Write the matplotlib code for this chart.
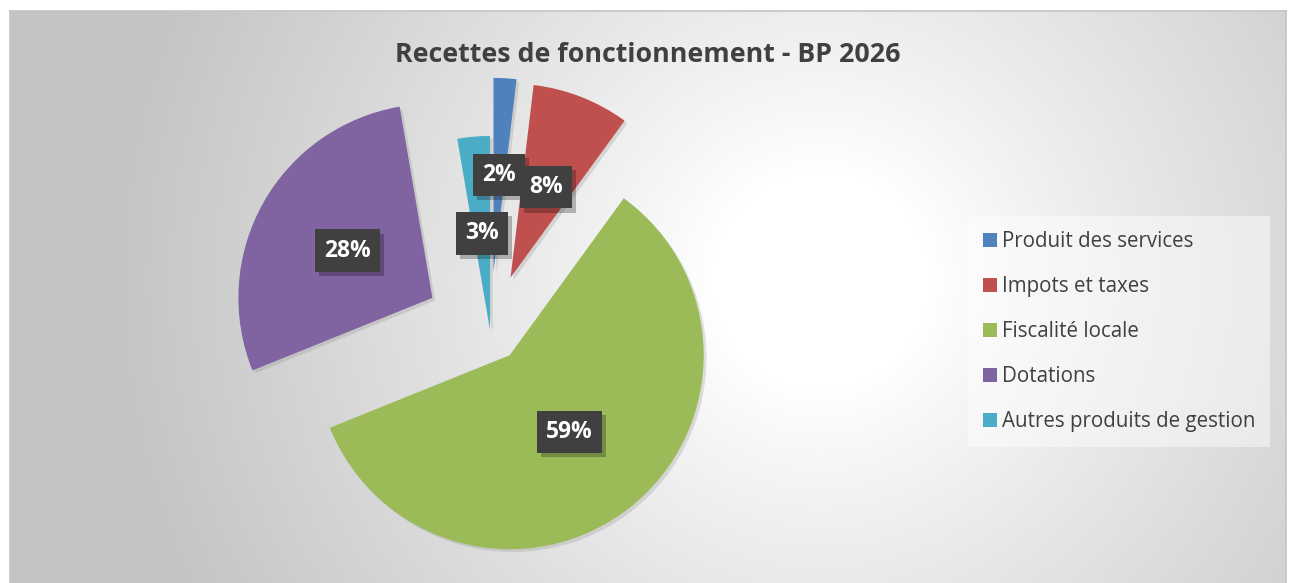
import numpy as np
import matplotlib
matplotlib.use("Agg")
import matplotlib.pyplot as plt
from matplotlib.patches import Patch
import matplotlib.patheffects as pe

# data
categories = ["Produit des services", "Impots et taxes", "Fiscalité locale",
              "Dotations", "Autres produits de gestion"]
values = [1.9, 8.1, 58.9, 28.4, 2.7]
title = "Recettes de fonctionnement - BP 2026"

# style
colors = ["#4F81BD", "#C0504D", "#9BBB59", "#8064A2", "#4BACC6"]
explode = [0.30, 0.29, 0.165, 0.34, 0.0]
txt_col = "#404040"

W, H = 1289, 583
plt.rcParams["font.family"] = ["Open Sans", "DejaVu Sans"]
fig = plt.figure(figsize=(W / 100, H / 100), dpi=100)
fig.patch.set_facecolor("white")

# chart area with radial gradient
x0, x1, y0, y1 = 10, 1286, 11, 583
bg = fig.add_axes([x0 / W, 0, (x1 - x0) / W, (y1 - y0) / H])
bg.set_zorder(-1)
yy, xx = np.mgrid[0:(y1 - y0), 0:(x1 - x0)]
d = np.hypot(xx - (820 - x0), yy - (280 - y0))
t = np.clip((d - 110) / 600, 0, 1) ** 0.9
g = 1.0 - t * (255 - 196) / 255
bg.imshow(np.dstack([g, g, g]), aspect="auto", extent=(0, 1, 0, 1), origin="upper")
bg.set_xticks([])
bg.set_yticks([])
for s in bg.spines.values():
    s.set_color("#c4c4c4")
    s.set_linewidth(1.2)
bg.spines["bottom"].set_visible(False)

# pie axes: centre at (490, 330) px, radius 194 px
R = 194
half = 300
ax = fig.add_axes([(490 - half) / W, (H - 330 - half) / H, 2 * half / W, 2 * half / H])
ax.set_zorder(1)
wedges, texts, autotexts = ax.pie(
    values, colors=colors, explode=explode, startangle=90, counterclock=False,
    autopct="%1.0f%%", pctdistance=0.5, radius=1.0,
    wedgeprops=dict(linewidth=0),
    textprops=dict(color="white", fontsize=16.5, fontweight="bold"))
for w in wedges:
    w.set_path_effects([pe.SimplePatchShadow(offset=(2, -2), shadow_rgbFace="#888888", alpha=0.25),
                        pe.Normal()])
for a in autotexts:
    a.set_bbox(dict(boxstyle="square,pad=0.4", facecolor="#404040",
                    edgecolor="none", linewidth=0))
    a.get_bbox_patch().set_path_effects([
        pe.SimplePatchShadow(offset=(3, -3), shadow_rgbFace="#000000", alpha=0.25),
        pe.Normal()])
ax.set_xlim(-half / R, half / R)
ax.set_ylim(-half / R, half / R)
ax.axis("off")

# title
fig.text(648 / W, 1 - 62 / H, title, ha="center", va="baseline",
         fontsize=19.3, fontweight="bold", color=txt_col)

# legend
handles = [Patch(facecolor=c, edgecolor="none") for c in colors]
leg = fig.legend(handles, categories, loc="upper left",
                 bbox_to_anchor=(968 / W, 1 - 216 / H), borderaxespad=0,
                 frameon=True, fancybox=False, facecolor="white", edgecolor="none",
                 framealpha=0.45, fontsize=14.8, labelcolor=txt_col,
                 handlelength=0.68, handleheight=0.68, handletextpad=0.25,
                 labelspacing=1.17, borderpad=0.72)

fig.savefig("out.png", dpi=100)
